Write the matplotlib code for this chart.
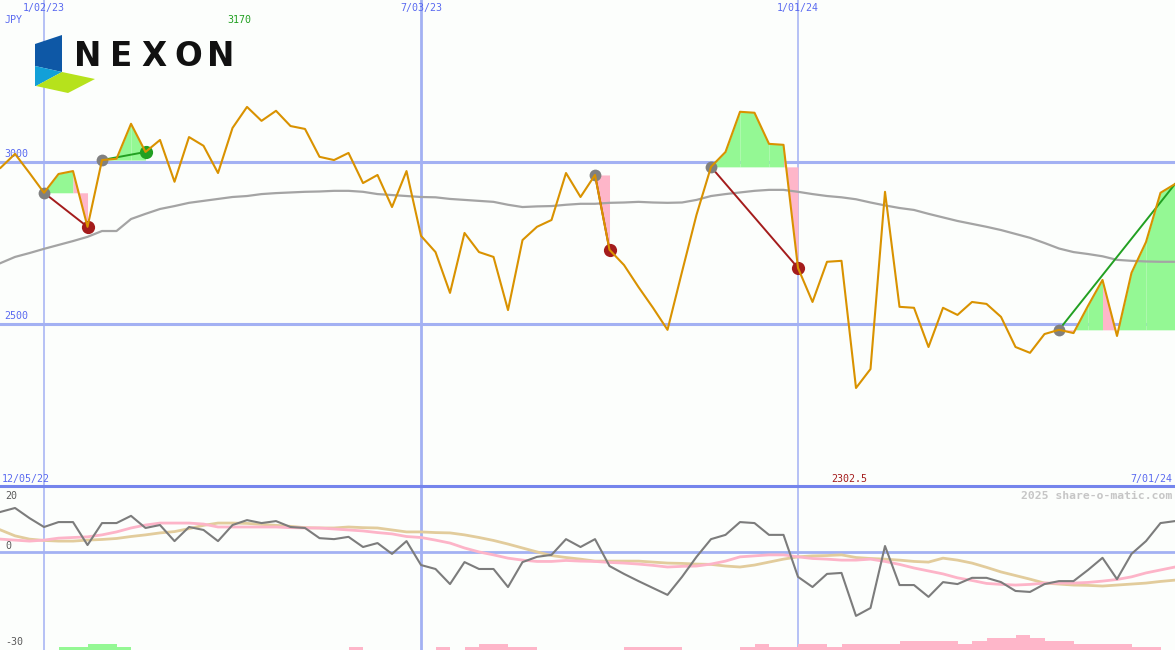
import matplotlib
matplotlib.use('Agg')
import matplotlib.pyplot as plt
import matplotlib.dates as mdates
import matplotlib.transforms as mtransforms
from matplotlib.patches import Polygon
import numpy as np
import pandas as pd

# Datos semanales NEXON (JPY) / weekly NEXON closes
fechas = pd.date_range('2022-12-12', '2024-07-01', freq='7D')
precio = [2982, 3025, 2966, 2905, 2963, 2972, 2800, 3006, 3010, 3118,
          3031, 3068, 2939, 3077, 3050, 2966, 3105, 3170, 3127, 3158,
          3111, 3102, 3016, 3006, 3028, 2935, 2960, 2861, 2972, 2772,
          2722, 2596, 2781, 2722, 2707, 2543, 2759, 2800, 2821, 2966,
          2892, 2960, 2729, 2682, 2614, 2550, 2482, 2661, 2837, 2985,
          3031, 3155, 3152, 3056, 3053, 2673, 2568, 2692, 2695, 2302.5,
          2361, 2908, 2553, 2550, 2429, 2550, 2528, 2568, 2562, 2522,
          2429, 2411, 2469, 2482, 2472, 2556, 2636, 2463, 2658, 2753,
          2905, 2932]
media = [2688, 2707, 2719, 2732, 2744, 2756, 2769, 2787, 2787, 2824,
         2840, 2855, 2864, 2874, 2880, 2886, 2892, 2895, 2901, 2904,
         2906, 2908, 2909, 2911, 2911, 2908, 2901, 2898, 2895, 2892,
         2891, 2886, 2883, 2880, 2877, 2868, 2861, 2863, 2864, 2868,
         2871, 2871, 2874, 2875, 2877, 2875, 2874, 2875, 2883, 2895,
         2901, 2906, 2911, 2914, 2914, 2908, 2901, 2895, 2891, 2885,
         2875, 2866, 2858, 2852, 2840, 2829, 2818, 2809, 2800, 2790,
         2778, 2766, 2750, 2733, 2722, 2716, 2709, 2698, 2695, 2693,
         2692, 2692]
# Oscilador inferior / lower oscillator
osc = [12.1, 13.3, 10.2, 7.5, 9.0, 9.0, 2.0, 8.7, 8.7, 10.9,
       7.2, 8.1, 3.2, 7.5, 6.6, 3.2, 8.1, 9.6, 8.7, 9.3,
       7.5, 7.2, 4.1, 3.8, 4.5, 1.4, 2.6, -0.7, 3.2, -4.1,
       -5.3, -9.9, -3.2, -5.3, -5.3, -10.8, -3.2, -1.6, -1.0, 3.8,
       1.4, 3.8, -4.4, -6.8, -9.0, -11.1, -13.2, -7.7, -1.6, 3.8,
       5.1, 9.0, 8.7, 5.1, 5.1, -7.7, -10.8, -6.8, -6.5, -19.6,
       -17.2, 1.7, -10.2, -10.2, -13.8, -9.3, -9.9, -8.0, -8.0, -9.3,
       -12.0, -12.3, -9.9, -9.0, -9.0, -5.6, -1.9, -8.4, -0.7, 3.2,
       8.7, 9.3]
osc_rosa = [3.8, 3.5, 3.2, 3.5, 4.1, 4.3, 4.5, 5.1, 6.0, 7.2,
            8.1, 8.7, 8.7, 8.7, 8.4, 7.5, 7.5, 7.5, 7.5, 7.5,
            7.3, 7.2, 7.2, 6.9, 6.6, 6.3, 5.8, 5.4, 4.6, 4.3,
            3.5, 2.6, 1.1, -0.1, -1.0, -2.0, -2.6, -3.0, -3.0, -2.7,
            -2.9, -3.0, -3.3, -3.5, -3.8, -4.2, -4.7, -4.5, -4.4, -3.8,
            -2.9, -1.6, -1.3, -1.0, -1.0, -1.6, -2.1, -2.3, -2.6, -2.6,
            -2.3, -3.0, -3.9, -5.0, -5.9, -6.8, -8.0, -8.8, -9.7, -10.0,
            -10.2, -10.0, -9.6, -9.6, -9.6, -9.4, -9.0, -8.5, -7.7, -6.5,
            -5.6, -4.7]
osc_tan = [6.6, 4.8, 3.8, 3.4, 3.2, 3.2, 3.5, 3.7, 4.0, 4.6,
           5.1, 5.7, 6.1, 7.0, 8.0, 8.7, 8.7, 8.6, 8.3, 8.0,
           7.7, 7.3, 7.2, 7.2, 7.5, 7.3, 7.2, 6.6, 6.0, 6.0,
           5.8, 5.7, 5.1, 4.3, 3.4, 2.3, 1.1, -0.1, -1.2, -1.8,
           -2.3, -2.9, -2.9, -2.9, -2.9, -3.2, -3.5, -3.6, -3.8, -3.9,
           -4.4, -4.7, -4.1, -3.2, -2.3, -1.6, -1.3, -1.2, -1.0, -1.8,
           -2.1, -2.3, -2.6, -3.0, -3.2, -2.0, -2.6, -3.5, -4.8, -6.2,
           -7.3, -8.4, -9.6, -9.9, -10.2, -10.3, -10.5, -10.2, -9.9, -9.6,
           -9.1, -8.7]
# Barras por semana (+ verde, - rosa) / weekly bars (+ green, - pink)
barras = [0, 0, 0, 0, 1, 1, 2, 2, 1, 0,
          0, 0, 0, 0, 0, 0, 0, 0, 0, 0,
          0, 0, 0, 0, -1, 0, 0, 0, 0, 0,
          -1, 0, -1, -2, -2, -1, -1, 0, 0, 0,
          0, 0, 0, -1, -1, -1, -1, 0, 0, 0,
          0, -1, -2, -1, -1, -2, -2, -1, -2, -2,
          -2, -2, -3, -3, -3, -3, -2, -3, -4, -4,
          -5, -4, -3, -3, -2, -2, -2, -2, -1, -1,
          0]
# Señales (inicio, fin) / signals (start, end)
senales = [(3, 6), (7, 10), (41, 42), (49, 55), (73, 81)]
abiertas = [73]
lineas_v = ['2023-01-02', '2023-07-03', '2024-01-01']
niveles = [3000, 2500]

FONDO = '#fcfefc'
GRID = '#a3b1f3'
AZUL_TXT = '#5a6af0'
NARANJA = '#d99200'
VERDE_F = '#94f894'
ROSA_F = '#feb6c9'
VERDE = '#22a022'
ROJO = '#a41c1c'
GRIS = '#808080'
MONO = 'DejaVu Sans Mono'

x = mdates.date2num(fechas)
xs_v = mdates.date2num(pd.to_datetime(lineas_v))

fig = plt.figure(figsize=(11.75, 6.5), dpi=100, facecolor=FONDO)
ax = fig.add_axes([0, 164 / 650, 1, 486 / 650])
ax2 = fig.add_axes([0, 0, 1, 164 / 650])
ov = fig.add_axes([0, 0, 1, 1])
ov.set_xlim(0, 1175)
ov.set_ylim(650, 0)
ov.set_axis_off()
ov.patch.set_alpha(0)

for a in (ax, ax2):
    a.set_axis_off()
    a.set_xlim(x[0] - 0.25, x[-1])
    for i, xv in enumerate(xs_v):
        a.axvline(xv, color=GRID, lw=2 if i == 1 else 1.1, zorder=1)
ax.set_ylim(2000, 3500)
ax2.set_ylim(-30, 20)

# Panel principal / main panel
for n in niveles:
    ax.axhline(n, color=GRID, lw=2.2, zorder=1)
    ax.text(0.004, n + 8, str(n), transform=mtransforms.blended_transform_factory(ax.transAxes, ax.transData),
            family=MONO, fontsize=7.2, color=AZUL_TXT, va='bottom', ha='left')

for ini, fin in senales:
    nivel = precio[ini]
    for i in range(ini, fin):
        col = VERDE_F if precio[i + 1] >= nivel else ROSA_F
        ax.fill_between(x[i:i + 2], precio[i:i + 2], nivel, color=col, lw=0, zorder=2)
    col_l = VERDE if precio[fin] >= nivel else ROJO
    ax.plot([x[ini], x[fin]], [nivel, precio[fin]], color=col_l, lw=1.4, zorder=4)
    ax.plot(x[ini], nivel, 'o', color=GRIS, ms=8.5, mec='none', zorder=5)
    if ini not in abiertas:
        ax.plot(x[fin], precio[fin], 'o', color=col_l, ms=9.5, mec='none', zorder=5)

ax.plot(x, media, color='#a4a4a4', lw=1.6, zorder=3)
ax.plot(x, precio, color=NARANJA, lw=1.5, zorder=6)

# Panel inferior / lower panel
ax2.axhline(0, color=GRID, lw=2, zorder=1)
alturas = np.abs(barras) * 0.915
colores = [VERDE_F if b > 0 else ROSA_F for b in barras]
ax2.bar(x[:-1], alturas, width=7, align='edge', bottom=-30, color=colores, lw=0, zorder=2)
ax2.plot(x, osc_tan, color='#e2cc9c', lw=2, zorder=3)
ax2.plot(x, osc_rosa, color='#fdb4c8', lw=2, zorder=3)
ax2.plot(x, osc, color='#7c7c7c', lw=1.5, zorder=4)

ov.axhline(486, color='#7585ec', lw=2.2)

# Etiquetas / labels
bt = mtransforms.blended_transform_factory(ax.transData, ov.transData)
for xv, d in zip(xs_v, pd.to_datetime(lineas_v)):
    ov.text(xv, 8, f"{d.month}/{d.day:02d}/{d.year % 100:02d}", transform=bt,
            family=MONO, fontsize=7.2, color=AZUL_TXT, ha='center', va='center')
imax = int(np.argmax(precio))
imin = int(np.argmin(precio))
ov.text(x[imax] - 3.5, 20, f"{precio[imax]:g}", transform=bt, family=MONO, fontsize=7.2,
        color=VERDE, ha='center', va='center')
ov.text(x[imin] - 3.5, 479, f"{precio[imin]:g}", transform=bt, family=MONO, fontsize=7.2,
        color=ROJO, ha='center', va='center')
ov.text(5, 20, 'JPY', family=MONO, fontsize=7.2, color=AZUL_TXT, ha='left', va='center')
ov.text(2, 479, '12/05/22', family=MONO, fontsize=7.2, color=AZUL_TXT, ha='left', va='center')
ov.text(1172, 479, '7/01/24', family=MONO, fontsize=7.2, color=AZUL_TXT, ha='right', va='center')
ov.text(1172, 496, '2025 share-o-matic.com', family=MONO, fontsize=8.2, fontweight='bold',
        color='#c6c6c6', ha='right', va='center')
for val, yp in ((20, 496), (0, 546), (-30, 642)):
    ov.text(5, yp, str(val), family=MONO, fontsize=7.2, color='#5a5a5a', ha='left', va='center')

# Logo NEXON
ov.add_patch(Polygon([(35, 44), (62, 35), (62, 72), (35, 66)], closed=True, color='#0e58a6', lw=0))
ov.add_patch(Polygon([(35, 66), (62, 72), (36, 86), (35, 86)], closed=True, color='#12a0d8', lw=0))
ov.add_patch(Polygon([(62, 72), (95, 79), (68, 93), (36, 86)], closed=True, color='#b6e21c', lw=0))
for letra, xc in zip('NEXON', (88, 121, 154, 188, 221)):
    ov.text(xc, 66, letra, fontsize=23.5, fontweight='heavy', family='DejaVu Sans',
            color='#111111', ha='center', va='baseline')

fig.savefig('out.png', dpi=100, facecolor=FONDO)
